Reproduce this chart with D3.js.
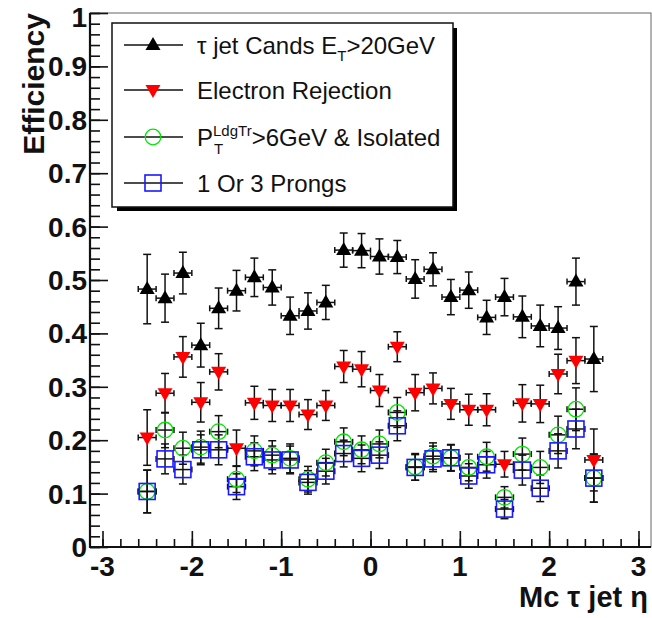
<!DOCTYPE html>
<html>
<head>
<meta charset="utf-8">
<script src="https://cdn.jsdelivr.net/npm/d3@7"></script>
<style>
  body { margin: 0; background: #fff; }
  text { font-family: "Liberation Sans", Arial, Helvetica, sans-serif; }
</style>
</head>
<body>
<svg id="chart" width="652" height="618"></svg>
<script>
// eta bin centres (bin width 0.2)
var eta = [-2.5, -2.3, -2.1, -1.9, -1.7, -1.5, -1.3, -1.1, -0.9, -0.7, -0.5, -0.3, -0.1,
           0.1, 0.3, 0.5, 0.7, 0.9, 1.1, 1.3, 1.5, 1.7, 1.9, 2.1, 2.3, 2.5];

var candsEff = [0.483, 0.466, 0.513, 0.378, 0.447, 0.480, 0.505, 0.486, 0.433, 0.442, 0.458, 0.556, 0.555,
                0.544, 0.543, 0.502, 0.520, 0.468, 0.481, 0.430, 0.468, 0.431, 0.414, 0.410, 0.497, 0.352];
var candsErr = [0.065, 0.045, 0.039, 0.041, 0.038, 0.038, 0.036, 0.033, 0.035, 0.034, 0.032, 0.032, 0.032,
                0.033, 0.031, 0.036, 0.031, 0.033, 0.034, 0.032, 0.035, 0.039, 0.039, 0.040, 0.044, 0.061];

var elecEff = [0.205, 0.288, 0.356, 0.271, 0.328, 0.185, 0.270, 0.265, 0.265, 0.248, 0.265, 0.338, 0.333,
               0.293, 0.375, 0.289, 0.297, 0.268, 0.257, 0.257, 0.155, 0.269, 0.268, 0.324, 0.349, 0.163];
var elecErr = [0.052, 0.037, 0.038, 0.037, 0.034, 0.034, 0.031, 0.030, 0.030, 0.028, 0.028, 0.030, 0.033,
               0.030, 0.028, 0.034, 0.029, 0.029, 0.029, 0.030, 0.024, 0.035, 0.035, 0.037, 0.043, 0.058];

var isoEff = [0.104, 0.219, 0.185, 0.187, 0.216, 0.127, 0.180, 0.172, 0.166, 0.127, 0.158, 0.197, 0.182,
              0.193, 0.252, 0.150, 0.170, 0.167, 0.149, 0.169, 0.093, 0.174, 0.149, 0.210, 0.258, 0.129];
var isoErr = [0.040, 0.033, 0.030, 0.030, 0.030, 0.025, 0.028, 0.027, 0.027, 0.024, 0.025, 0.026, 0.026,
              0.026, 0.028, 0.025, 0.025, 0.025, 0.025, 0.027, 0.020, 0.030, 0.030, 0.035, 0.040, 0.045];

var prongEff = [0.104, 0.165, 0.145, 0.182, 0.182, 0.113, 0.169, 0.163, 0.163, 0.121, 0.142, 0.175, 0.166,
                0.172, 0.227, 0.149, 0.165, 0.167, 0.133, 0.154, 0.071, 0.144, 0.110, 0.180, 0.221, 0.129];
var prongErr = [0.040, 0.028, 0.027, 0.028, 0.028, 0.024, 0.026, 0.026, 0.026, 0.022, 0.024, 0.025, 0.025,
                0.025, 0.028, 0.024, 0.024, 0.024, 0.023, 0.025, 0.018, 0.028, 0.025, 0.032, 0.037, 0.045];

var binHalf = 0.1;
var xTicks = [-3, -2, -1, 0, 1, 2, 3];
var yTicks = [0, 0.1, 0.2, 0.3, 0.4, 0.5, 0.6, 0.7, 0.8, 0.9, 1];

var series = [
  {name: 'cands', eff: candsEff, err: candsErr, marker: 'up', color: '#000'},
  {name: 'elec', eff: elecEff, err: elecErr, marker: 'down', color: '#ff0000'},
  {name: 'iso', eff: isoEff, err: isoErr, marker: 'circle', color: '#00e600'},
  {name: 'prong', eff: prongEff, err: prongErr, marker: 'square', color: '#1a1aff'}
];

var svg = d3.select('#chart');

var x = d3.scaleLinear().domain([-3.14, 3.14]).range([90, 651]);
var y = d3.scaleLinear().domain([0, 1]).range([547, 13]);

// frame (top/right thin)
svg.append('rect')
  .attr('x', x.range()[0]).attr('y', y.range()[1])
  .attr('width', x.range()[1] - x.range()[0])
  .attr('height', y.range()[0] - y.range()[1])
  .attr('fill', 'none').attr('stroke', '#666').attr('stroke-width', 1);

// x axis, ticks pointing up
var xMinor = d3.range(-15, 16).map(function(i) { return i * 0.2; });
var xAxis = svg.append('g').attr('transform', 'translate(0,' + y(0) + ')');
xAxis.call(d3.axisTop(x).tickValues(xMinor).tickSize(8).tickFormat(''));
xAxis.append('g').call(d3.axisTop(x).tickValues(xTicks).tickSize(16).tickFormat(''));
xAxis.selectAll('.domain').remove();
xAxis.selectAll('line').attr('stroke', '#111').attr('stroke-width', 1.6);

svg.append('g').selectAll('text')
  .data(xTicks)
  .enter()
  .append('text')
  .attr('x', function(d) { return x(d); })
  .attr('y', 576)
  .attr('text-anchor', 'middle')
  .attr('font-size', 28)
  .attr('font-weight', 'bold')
  .attr('fill', '#111')
  .text(function(d) { return d; });

// y axis, ticks pointing right
var yMinor = d3.range(0, 51).map(function(i) { return i * 0.02; });
var yAxis = svg.append('g').attr('transform', 'translate(' + x.range()[0] + ',0)');
yAxis.call(d3.axisRight(y).tickValues(yMinor).tickSize(10).tickFormat(''));
yAxis.append('g').call(d3.axisRight(y).tickValues(yTicks).tickSize(18).tickFormat(''));
yAxis.selectAll('.domain').remove();
yAxis.selectAll('line').attr('stroke', '#111').attr('stroke-width', 1.6);

// top label is pushed down so it stays inside the canvas
svg.append('g').selectAll('text')
  .data(yTicks)
  .enter()
  .append('text')
  .attr('x', 87)
  .attr('y', function(d) { return d === 1 ? y(d) + 14 : y(d) + 10; })
  .attr('text-anchor', 'end')
  .attr('font-size', 28)
  .attr('font-weight', 'bold')
  .attr('fill', '#111')
  .text(function(d) { return d; });

// thick left/bottom axis lines
svg.append('line')
  .attr('x1', x.range()[0]).attr('x2', x.range()[0])
  .attr('y1', y.range()[1]).attr('y2', y.range()[0] + 1)
  .attr('stroke', '#111').attr('stroke-width', 2.2);
svg.append('line')
  .attr('x1', x.range()[0] - 1).attr('x2', x.range()[1])
  .attr('y1', y.range()[0]).attr('y2', y.range()[0])
  .attr('stroke', '#111').attr('stroke-width', 2.2);

// axis titles
svg.append('text')
  .attr('transform', 'translate(44,13) rotate(-90)')
  .attr('text-anchor', 'end')
  .attr('font-size', 30)
  .attr('font-weight', 'bold')
  .attr('fill', '#111')
  .text('Efficiency');

svg.append('text')
  .attr('x', 648)
  .attr('y', 607)
  .attr('text-anchor', 'end')
  .attr('font-size', 29)
  .attr('font-weight', 'bold')
  .attr('fill', '#111')
  .text('Mc \u03c4 jet \u03b7');

function drawMarker(g, type, color) {
  if (type === 'up') {
    g.append('path').attr('d', 'M-7.5,5L7.5,5L0,-8Z').attr('fill', color);
  } else if (type === 'down') {
    g.append('path').attr('d', 'M-7.5,-5L7.5,-5L0,8Z').attr('fill', color);
  } else if (type === 'circle') {
    g.append('circle').attr('r', 7.8).attr('fill', 'none')
      .attr('stroke', color).attr('stroke-width', 1.3);
  } else {
    g.append('rect').attr('x', -8).attr('y', -8).attr('width', 16).attr('height', 16)
      .attr('fill', 'none').attr('stroke', color).attr('stroke-width', 1.6);
  }
}

// error bars first, markers on top
series.forEach(function(s) {
  var g = svg.append('g').attr('class', 'series-' + s.name);
  var pts = eta.map(function(e, i) { return {x: e, v: s.eff[i], err: s.err[i]}; });

  var bars = g.selectAll('g.err').data(pts).enter().append('g').attr('class', 'err')
    .attr('stroke', '#111').attr('stroke-width', 1.5);

  bars.append('line')
    .attr('x1', function(d) { return x(d.x); })
    .attr('x2', function(d) { return x(d.x); })
    .attr('y1', function(d) { return y(d.v - d.err); })
    .attr('y2', function(d) { return y(d.v + d.err); });
  bars.append('line')
    .attr('x1', function(d) { return x(d.x) - 4; })
    .attr('x2', function(d) { return x(d.x) + 4; })
    .attr('y1', function(d) { return y(d.v + d.err); })
    .attr('y2', function(d) { return y(d.v + d.err); });
  bars.append('line')
    .attr('x1', function(d) { return x(d.x) - 4; })
    .attr('x2', function(d) { return x(d.x) + 4; })
    .attr('y1', function(d) { return y(d.v - d.err); })
    .attr('y2', function(d) { return y(d.v - d.err); });
  bars.append('line')
    .attr('x1', function(d) { return x(d.x - binHalf); })
    .attr('x2', function(d) { return x(d.x + binHalf); })
    .attr('y1', function(d) { return y(d.v); })
    .attr('y2', function(d) { return y(d.v); });
  bars.append('line')
    .attr('x1', function(d) { return x(d.x - binHalf); })
    .attr('x2', function(d) { return x(d.x - binHalf); })
    .attr('y1', function(d) { return y(d.v) - 3; })
    .attr('y2', function(d) { return y(d.v) + 3; });
  bars.append('line')
    .attr('x1', function(d) { return x(d.x + binHalf); })
    .attr('x2', function(d) { return x(d.x + binHalf); })
    .attr('y1', function(d) { return y(d.v) - 3; })
    .attr('y2', function(d) { return y(d.v) + 3; });

  s.pts = pts;
});

series.forEach(function(s) {
  svg.append('g').selectAll('g.mk')
    .data(s.pts)
    .enter()
    .append('g')
    .attr('class', 'mk')
    .attr('transform', function(d) { return 'translate(' + x(d.x) + ',' + y(d.v) + ')'; })
    .each(function() { drawMarker(d3.select(this), s.marker, s.color); });
});

// legend box with shadow
var leg = svg.append('g');
leg.append('rect').attr('x', 117).attr('y', 28).attr('width', 340).attr('height', 183).attr('fill', '#000');
leg.append('rect').attr('x', 112).attr('y', 23).attr('width', 341).attr('height', 184)
  .attr('fill', '#fff').attr('stroke', '#111').attr('stroke-width', 1.5);

var legY = [45, 90, 137, 183];
series.forEach(function(s, i) {
  leg.append('line')
    .attr('x1', 124).attr('x2', 183)
    .attr('y1', legY[i]).attr('y2', legY[i])
    .attr('stroke', '#111').attr('stroke-width', 1.5);
  drawMarker(leg.append('g').attr('transform', 'translate(153,' + legY[i] + ')'), s.marker, s.color);
});

var t1 = leg.append('text').attr('x', 197).attr('y', legY[0] + 9).attr('font-size', 24).attr('fill', '#111');
t1.append('tspan').text('\u03c4 jet Cands E');
t1.append('tspan').attr('font-size', 15).attr('dy', 7).text('T');
t1.append('tspan').attr('dy', -7).text('>20GeV');

leg.append('text').attr('x', 197).attr('y', legY[1] + 9).attr('font-size', 24).attr('fill', '#111')
  .text('Electron Rejection');

var t3 = leg.append('text').attr('x', 197).attr('y', legY[2] + 9).attr('font-size', 24).attr('fill', '#111');
var pSpan = t3.append('tspan').text('P');
t3.append('tspan').attr('font-size', 15).attr('dy', -10).text('LdgTr');
t3.append('tspan').attr('dy', 10).text('>6GeV & Isolated');
var pW = pSpan.node().getComputedTextLength();
leg.append('text').attr('x', 197 + pW + 1).attr('y', legY[2] + 17).attr('font-size', 15).attr('fill', '#111')
  .text('T');

leg.append('text').attr('x', 197).attr('y', legY[3] + 9).attr('font-size', 24).attr('fill', '#111')
  .text('1 Or 3 Prongs');
</script>
</body>
</html>
